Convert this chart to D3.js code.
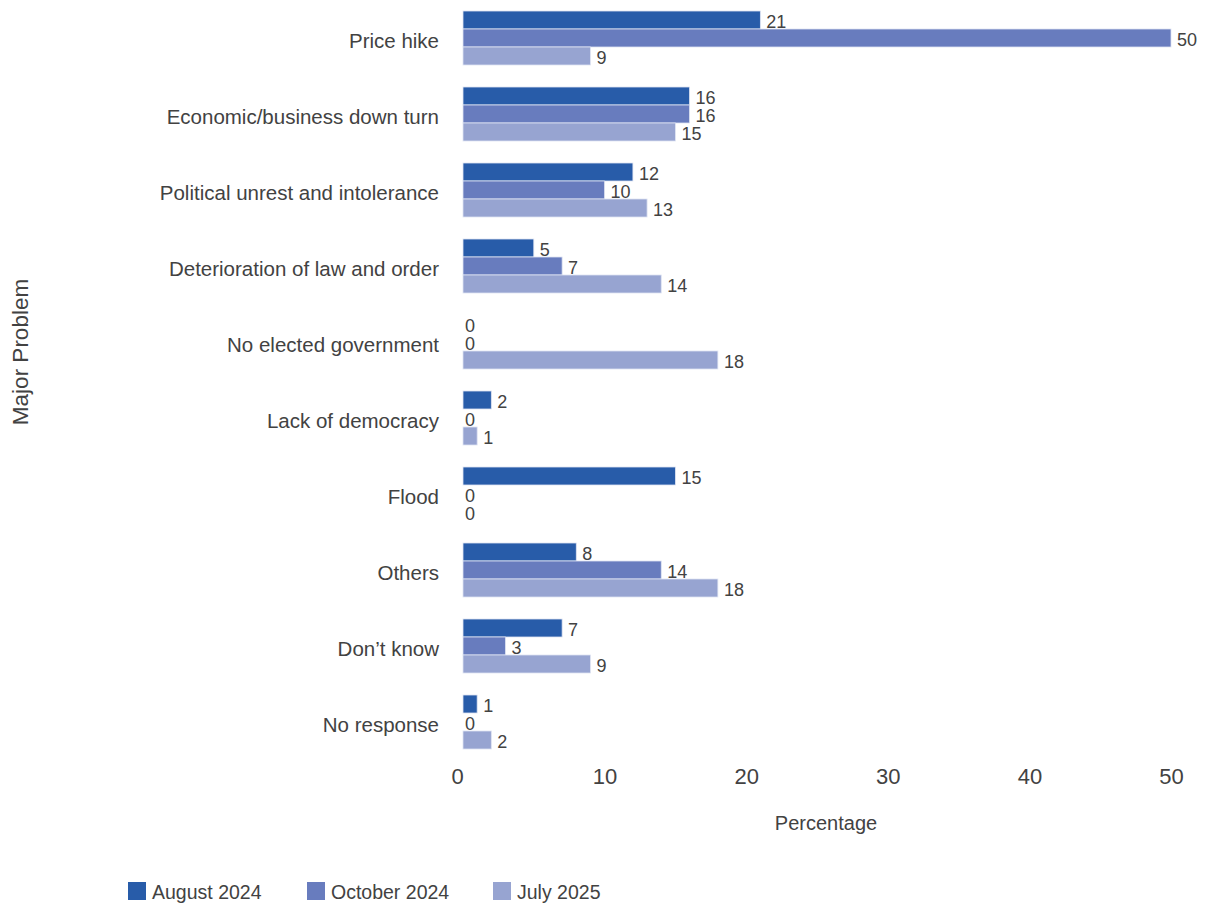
<!DOCTYPE html>
<html>
<head>
<meta charset="utf-8">
<script src="https://cdn.jsdelivr.net/npm/d3@7"></script>
<style>
  html, body { margin: 0; padding: 0; background: #fff; }
  svg text { font-family: "Liberation Sans", Arial, Helvetica, sans-serif; fill: #424242; }
</style>
</head>
<body>
<svg id="chart" width="1210" height="908"></svg>
<script>
// Survey: major problem facing the country, share of respondents (%)
const categories = [
  "Price hike",
  "Economic/business down turn",
  "Political unrest and intolerance",
  "Deterioration of law and order",
  "No elected government",
  "Lack of democracy",
  "Flood",
  "Others",
  "Don\u2019t know",
  "No response"
];
const seriesNames = ["August 2024", "October 2024", "July 2025"];
const august2024  = [21, 16, 12, 5, 0, 2, 15, 8, 7, 1];
const october2024 = [50, 16, 10, 7, 0, 0, 0, 14, 3, 0];
const july2025    = [9, 15, 13, 14, 18, 1, 0, 18, 9, 2];
const xTicks = [0, 10, 20, 30, 40, 50];
const colors = ["#285ca9", "#687cbe", "#97a4d1"];

const seriesValues = [august2024, october2024, july2025];
const rows = categories.map((c, i) => ({
  category: c,
  values: seriesNames.map((s, k) => ({ series: s, value: seriesValues[k][i] }))
}));

const svg = d3.select("#chart");

const x = d3.scaleLinear().domain([0, 50]).range([463, 1171]);
const y = d3.scaleBand().domain(categories).range([0, 760])
  .paddingInner(22 / 76).paddingOuter(11 / 76);
const ySub = d3.scaleBand().domain(seriesNames).range([0, y.bandwidth()]);
const color = d3.scaleOrdinal().domain(seriesNames).range(colors);

// Bar groups
const groups = svg.append("g").selectAll("g")
  .data(rows).join("g")
  .attr("transform", d => `translate(0,${y(d.category)})`);

groups.selectAll("rect")
  .data(d => d.values).join("rect")
  .attr("x", x(0))
  .attr("y", d => ySub(d.series))
  .attr("width", d => x(d.value) - x(0))
  .attr("height", ySub.bandwidth())
  .attr("fill", d => color(d.series))
  .attr("stroke", "#dfe4f2")
  .attr("stroke-width", 0.8);

// Value labels
groups.selectAll("text.val")
  .data(d => d.values).join("text")
  .attr("class", "val")
  .attr("x", d => x(d.value) + (d.value === 0 ? 2 : 6))
  .attr("y", d => ySub(d.series) + ySub.bandwidth() / 2 + 2)
  .attr("dominant-baseline", "central")
  .style("font-size", "18px")
  .text(d => d.value);

// Category labels
svg.append("g").selectAll("text")
  .data(categories).join("text")
  .attr("x", 439)
  .attr("y", d => y(d) + y.bandwidth() / 2 + 2)
  .attr("text-anchor", "end")
  .attr("dominant-baseline", "central")
  .style("font-size", "20.5px")
  .text(d => d);

// X axis (labels only)
const xAxis = svg.append("g")
  .attr("transform", "translate(0,762)")
  .call(d3.axisBottom(x).tickValues(xTicks).tickSize(0).tickPadding(6));
xAxis.select(".domain").remove();
xAxis.selectAll("text")
  .style("font-size", "22px")
  .attr("fill", "#424242")
  .attr("dx", d => (d === 0 ? -6 : 0));

// Axis titles
svg.append("text")
  .attr("x", 826).attr("y", 830)
  .attr("text-anchor", "middle")
  .style("font-size", "20px")
  .text("Percentage");

svg.append("text")
  .attr("transform", "translate(28,352) rotate(-90)")
  .attr("text-anchor", "middle")
  .style("font-size", "22.5px")
  .text("Major Problem");

// Legend
const legendX = [128, 307, 493];
const legend = svg.append("g").selectAll("g")
  .data(seriesNames).join("g")
  .attr("transform", (d, i) => `translate(${legendX[i]},882)`);
legend.append("rect")
  .attr("width", 18).attr("height", 18)
  .attr("fill", d => color(d));
legend.append("text")
  .attr("x", 24).attr("y", 16.5)
  .style("font-size", "19.5px")
  .text(d => d);
</script>
</body>
</html>
